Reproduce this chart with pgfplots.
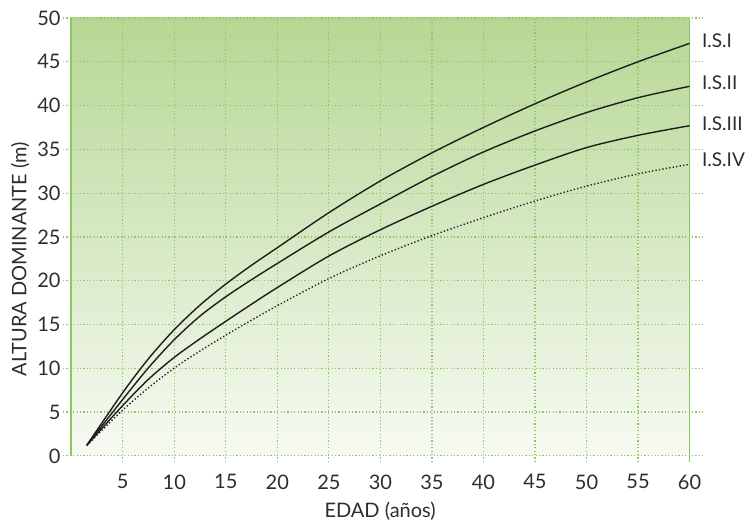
\documentclass[border=0pt]{standalone}
\usepackage{fontspec}
\setmainfont{Lato}
\usepackage{pgfplots}
\pgfplotsset{compat=1.18}
\definecolor{gridgreen}{RGB}{140,200,95}
\definecolor{topgreen}{RGB}{182,215,148}
\definecolor{botgreen}{RGB}{247,250,243}
\definecolor{txt}{RGB}{45,45,45}
\definecolor{crv}{RGB}{30,30,30}
\begin{document}
\begin{tikzpicture}
\begin{axis}[
  name=ax,
  scale only axis,
  width=642pt, height=444pt,
  xmin=-0.8, xmax=61.5, ymin=-0.7, ymax=50,
  xtick={5,10,...,60}, ytick={0,5,...,50},
  axis line style={draw=none},
  major tick length=0pt,
  grid=major,
  grid style={gridgreen, line width=1.2pt, dash pattern=on 1.1pt off 2.3pt},
  set layers,
  clip=false,
  font=\fontsize{20}{24}\selectfont,
  tick label style={txt, font=\fontsize{20}{24}\selectfont},
  /pgf/number format/assume math mode=true,
  xticklabel style={yshift=-9pt},
  yticklabel style={xshift=1pt},
  xlabel={EDAD (años)},
  ylabel={ALTURA DOMINANTE (m)},
  label style={txt, font=\fontsize{20}{24}\selectfont},
  xlabel style={at={(axis description cs:0.494,-0.11)}, anchor=center},
  ylabel style={at={(axis description cs:-0.067,0.457)}, anchor=center},
]
\begin{pgfonlayer}{axis background}
\shade[top color=topgreen, bottom color=botgreen] (axis cs:0,0) rectangle (axis cs:60,50);
\end{pgfonlayer}
\draw[gridgreen, line width=1.6pt] (axis cs:0,0) -- (axis cs:0,50);
\draw[gridgreen, line width=1.6pt] (axis cs:60,-0.7) -- (axis cs:60,50);

% I.S.I
\addplot[crv, line width=1.4pt, smooth, tension=0.5] coordinates {
(1.5,1.2) (5,7.22) (7.5,11.1) (10,14.42) (12.5,17.22) (15,19.62) (17.5,21.77) (20,23.77) (25,27.77) (30,31.4) (35,34.6) (40,37.5) (45,40.2) (50,42.7) (55,45.0) (60,47.1)};
% I.S.II
\addplot[crv, line width=1.4pt, smooth, tension=0.5] coordinates {
(1.5,1.2) (5,6.45) (7.5,10.07) (10,13.27) (12.5,15.97) (15,18.17) (17.5,20.12) (20,21.97) (25,25.57) (30,28.77) (35,31.9) (40,34.7) (45,37.1) (50,39.2) (55,40.9) (60,42.2)};
% I.S.III
\addplot[crv, line width=1.4pt, smooth, tension=0.5] coordinates {
(1.5,1.2) (5,5.75) (7.5,8.75) (10,11.25) (12.5,13.37) (15,15.37) (17.5,17.32) (20,19.22) (25,22.82) (30,25.82) (35,28.5) (40,31.0) (45,33.2) (50,35.2) (55,36.6) (60,37.7)};
% I.S.IV
\addplot[crv, line width=1.4pt, smooth, tension=0.5, dash pattern=on 1.3pt off 2.2pt] coordinates {
(1.5,1.2) (5,5.23) (7.5,7.78) (10,10.03) (12.5,11.98) (15,13.78) (17.5,15.5) (20,17.15) (25,20.25) (30,22.85) (35,25.15) (40,27.2) (45,29.1) (50,30.8) (55,32.2) (60,33.3)};

\node[anchor=west, txt, inner sep=0pt, font=\fontsize{19}{22}\selectfont] at (axis cs:61.2,47.4) {I.S.I};
\node[anchor=west, txt, inner sep=0pt, font=\fontsize{19}{22}\selectfont] at (axis cs:61.2,42.6) {I.S.II};
\node[anchor=west, txt, inner sep=0pt, font=\fontsize{19}{22}\selectfont] at (axis cs:61.2,37.9) {I.S.III};
\node[anchor=west, txt, inner sep=0pt, font=\fontsize{19}{22}\selectfont] at (axis cs:61.2,33.8) {I.S.IV};
\end{axis}
\pgfresetboundingbox
\path ([xshift=-63pt,yshift=-63pt]ax.south west) rectangle ([xshift=50pt,yshift=18pt]ax.north east);
\end{tikzpicture}
\end{document}
